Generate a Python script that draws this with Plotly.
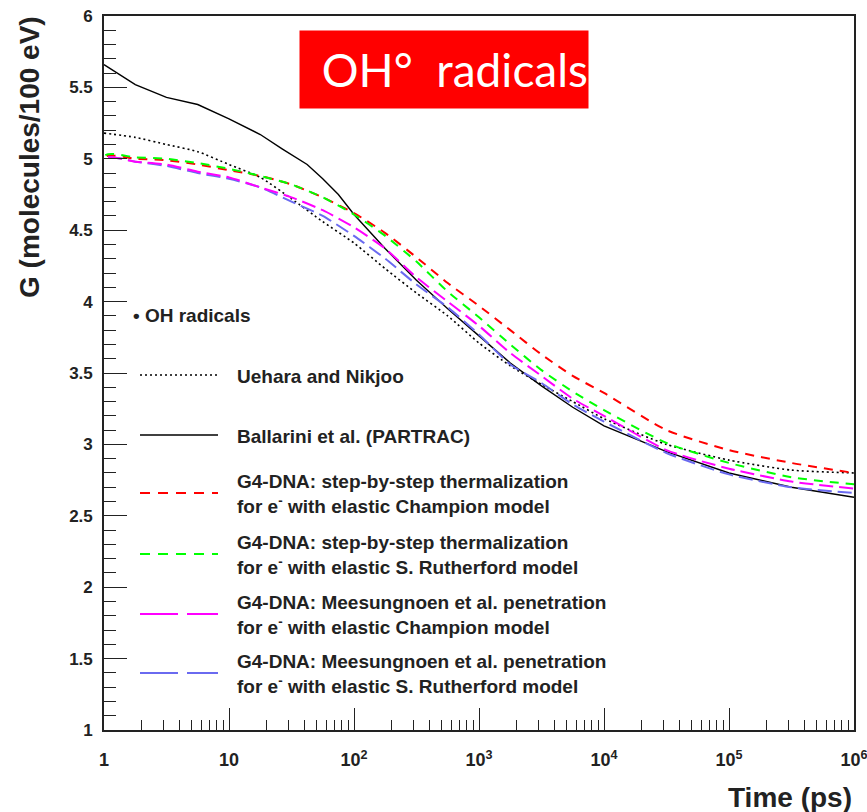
import plotly.graph_objects as go

# Time points (ps) shared by all yield curves
time_ps = [1, 1.78, 3.16, 5.62, 10, 17.8, 31.6, 56.2, 100, 178, 316, 562,
           1000, 1780, 3160, 5620, 1e4, 3.16e4, 1e5, 3.16e5, 1e6]

# G-values (molecules/100 eV) of OH radicals
g_uehara = [5.18, 5.15, 5.10, 5.05, 4.96, 4.87, 4.72, 4.56, 4.41, 4.23, 4.06,
            3.90, 3.71, 3.55, 3.42, 3.30, 3.18, 3.00, 2.89, 2.82, 2.80]
g_step_champion = [5.01, 5.00, 4.99, 4.96, 4.92, 4.88, 4.82, 4.73, 4.62, 4.48, 4.31,
                   4.13, 3.97, 3.80, 3.63, 3.48, 3.36, 3.10, 2.96, 2.87, 2.80]
g_step_rutherford = [5.02, 5.01, 5.00, 4.97, 4.93, 4.88, 4.82, 4.73, 4.61, 4.46, 4.28,
                     4.07, 3.89, 3.70, 3.52, 3.37, 3.24, 3.01, 2.87, 2.77, 2.72]
g_pen_champion = [5.00, 4.98, 4.96, 4.91, 4.87, 4.80, 4.73, 4.64, 4.52, 4.37, 4.17,
                  4.00, 3.83, 3.64, 3.48, 3.32, 3.20, 2.96, 2.83, 2.74, 2.69]
g_pen_rutherford = [5.00, 4.98, 4.95, 4.90, 4.86, 4.80, 4.70, 4.60, 4.46, 4.30, 4.12,
                    3.96, 3.77, 3.56, 3.43, 3.28, 3.16, 2.94, 2.79, 2.70, 2.66]

# PARTRAC curve, sampled a little more densely around its bend
time_ballarini = [1, 1.78, 3.16, 5.62, 10, 17.8, 26.6, 42.2, 56.2, 75, 100, 178, 316, 562,
                  1000, 1780, 3160, 5620, 1e4, 3.16e4, 1e5, 3.16e5, 1e6]
g_ballarini = [5.66, 5.52, 5.43, 5.38, 5.28, 5.17, 5.07, 4.96, 4.86, 4.75, 4.61, 4.37, 4.15,
               3.95, 3.76, 3.57, 3.41, 3.26, 3.13, 2.95, 2.80, 2.70, 2.63]

# The Geant4-DNA graphs start from zero at t = 1 ps
g4_start_time = [1]
g4_start_g = [0.0]

x_tickvals = [1, 10, 100, 1e3, 1e4, 1e5, 1e6]
x_ticktext = ["1", "10", "10<sup>2</sup>", "10<sup>3</sup>", "10<sup>4</sup>",
              "10<sup>5</sup>", "10<sup>6</sup>"]

legend_header = "• OH radicals"
labels = [
    "Uehara and Nikjoo",
    "Ballarini et al. (PARTRAC)",
    "G4-DNA: step-by-step thermalization<br>for e<sup>-</sup> with elastic Champion model",
    "G4-DNA: step-by-step thermalization<br>for e<sup>-</sup> with elastic S. Rutherford model",
    "G4-DNA: Meesungnoen et al. penetration<br>for e<sup>-</sup> with elastic Champion model",
    "G4-DNA: Meesungnoen et al. penetration<br>for e<sup>-</sup> with elastic S. Rutherford model",
]

# canvas geometry (pixels)
W, H = 867, 812
ML, MR, MT, MB = 104, 13, 16, 82
PW, PH = W - ML - MR, H - MT - MB
FONT = "Liberation Sans, Arial"
INK = "#222222"


def fx(x):
    return (x - ML) / PW


def fy(y):
    return (H - MB - y) / PH


# name, x, y, colour, width, curve dash, legend-sample dash, line shape
series = [
    (labels[0], time_ps, g_uehara, "#000000", 1.6, "2px,3px", "2px,3px", "spline"),
    (labels[1], time_ballarini, g_ballarini, "#000000", 1.4, "solid", "solid", "linear"),
    (labels[2], g4_start_time + time_ps, g4_start_g + g_step_champion, "#ff0000", 2, "9px,7px", "10px,8px", "spline"),
    (labels[3], g4_start_time + time_ps, g4_start_g + g_step_rutherford, "#00ff00", 2, "9px,7px", "10px,8px", "spline"),
    (labels[5], g4_start_time + time_ps, g4_start_g + g_pen_rutherford, "#6a6af0", 2, "14px,6px", "38px,9px", "spline"),
    (labels[4], g4_start_time + time_ps, g4_start_g + g_pen_champion, "#ff00ff", 2, "14px,6px", "38px,9px", "spline"),
]

fig = go.Figure()
for name, xs, ys, col, wid, dash, _, shape in series:
    fig.add_trace(go.Scatter(x=xs, y=ys, mode="lines", name=name, showlegend=False,
                             line=dict(color=col, width=wid, dash=dash,
                                       shape=shape, smoothing=0.6 if shape == "spline" else None)))

# hand-built legend inside the frame
legend_rows = [375, 435, 493, 554, 614, 673]
shapes = []
annotations = [dict(text=legend_header, x=fx(131), y=fy(316), xref="paper", yref="paper",
                    xanchor="left", yanchor="middle", showarrow=False,
                    font=dict(family=FONT, size=19, color=INK, weight="bold"))]
by_name = {s[0]: s for s in series}
for row_y, lab in zip(legend_rows, labels):
    s = by_name[lab]
    shapes.append(dict(type="line", xref="paper", yref="paper", x0=fx(140), x1=fx(218),
                       y0=fy(row_y), y1=fy(row_y), line=dict(color=s[3], width=s[4], dash=s[6])))
    annotations.append(dict(text=lab, x=fx(235), y=fy(row_y + 1), xref="paper", yref="paper",
                            xanchor="left", yanchor="middle", align="left", showarrow=False,
                            font=dict(family=FONT, size=19, color=INK, weight="bold")))

# axis titles
annotations.append(dict(text="G (molecules/100 eV)", textangle=-90, x=fx(29), y=fy(14),
                        xref="paper", yref="paper", xanchor="center", yanchor="top", showarrow=False,
                        font=dict(family=FONT, size=28, color=INK, weight="bold")))
annotations.append(dict(text="Time (ps)", x=fx(854), y=fy(797), xref="paper", yref="paper",
                        xanchor="right", yanchor="middle", showarrow=False,
                        font=dict(family=FONT, size=28, color=INK, weight="bold")))

# red title box
annotations.append(dict(text="OH°\u00a0 radicals", x=fx(444), y=fy(69.5), xref="paper", yref="paper",
                        xanchor="center", yanchor="middle", showarrow=False, width=288, height=77,
                        bgcolor="#ff0000", borderpad=0, align="right",
                        font=dict(family="Lato", size=46, color="#ffffff")))

minor_x = [m * 10 ** k for k in range(6) for m in range(2, 10)]

fig.update_layout(
    width=W, height=H,
    margin=dict(l=ML, r=MR, t=MT, b=MB),
    paper_bgcolor="white", plot_bgcolor="white",
    shapes=shapes, annotations=annotations,
    xaxis=dict(type="log", range=[0, 6], tickvals=x_tickvals, ticktext=x_ticktext,
               ticks="inside", ticklen=22, tickwidth=1.4, tickcolor=INK, automargin=False,
               ticklabeloverflow="allow",
               showgrid=False, zeroline=False, showline=True, linecolor=INK, linewidth=1.6,
               mirror=True, ticklabelstandoff=13,
               tickfont=dict(family=FONT, size=18, color=INK, weight="bold"),
               minor=dict(tickvals=minor_x, ticks="inside", ticklen=10, tickwidth=1.4,
                          tickcolor=INK, showgrid=False)),
    yaxis=dict(range=[1, 6], dtick=0.5, tick0=1, automargin=False,
               ticklabeloverflow="allow",
               ticks="inside", ticklen=23, tickwidth=1.4, tickcolor=INK,
               showgrid=False, zeroline=False, showline=True, linecolor=INK, linewidth=1.6,
               mirror=True, ticklabelstandoff=6,
               tickfont=dict(family=FONT, size=17, color=INK, weight="bold"),
               minor=dict(dtick=0.1, ticks="inside", ticklen=12, tickwidth=1.4,
                          tickcolor=INK, showgrid=False)),
)

fig.write_html("out.html")
